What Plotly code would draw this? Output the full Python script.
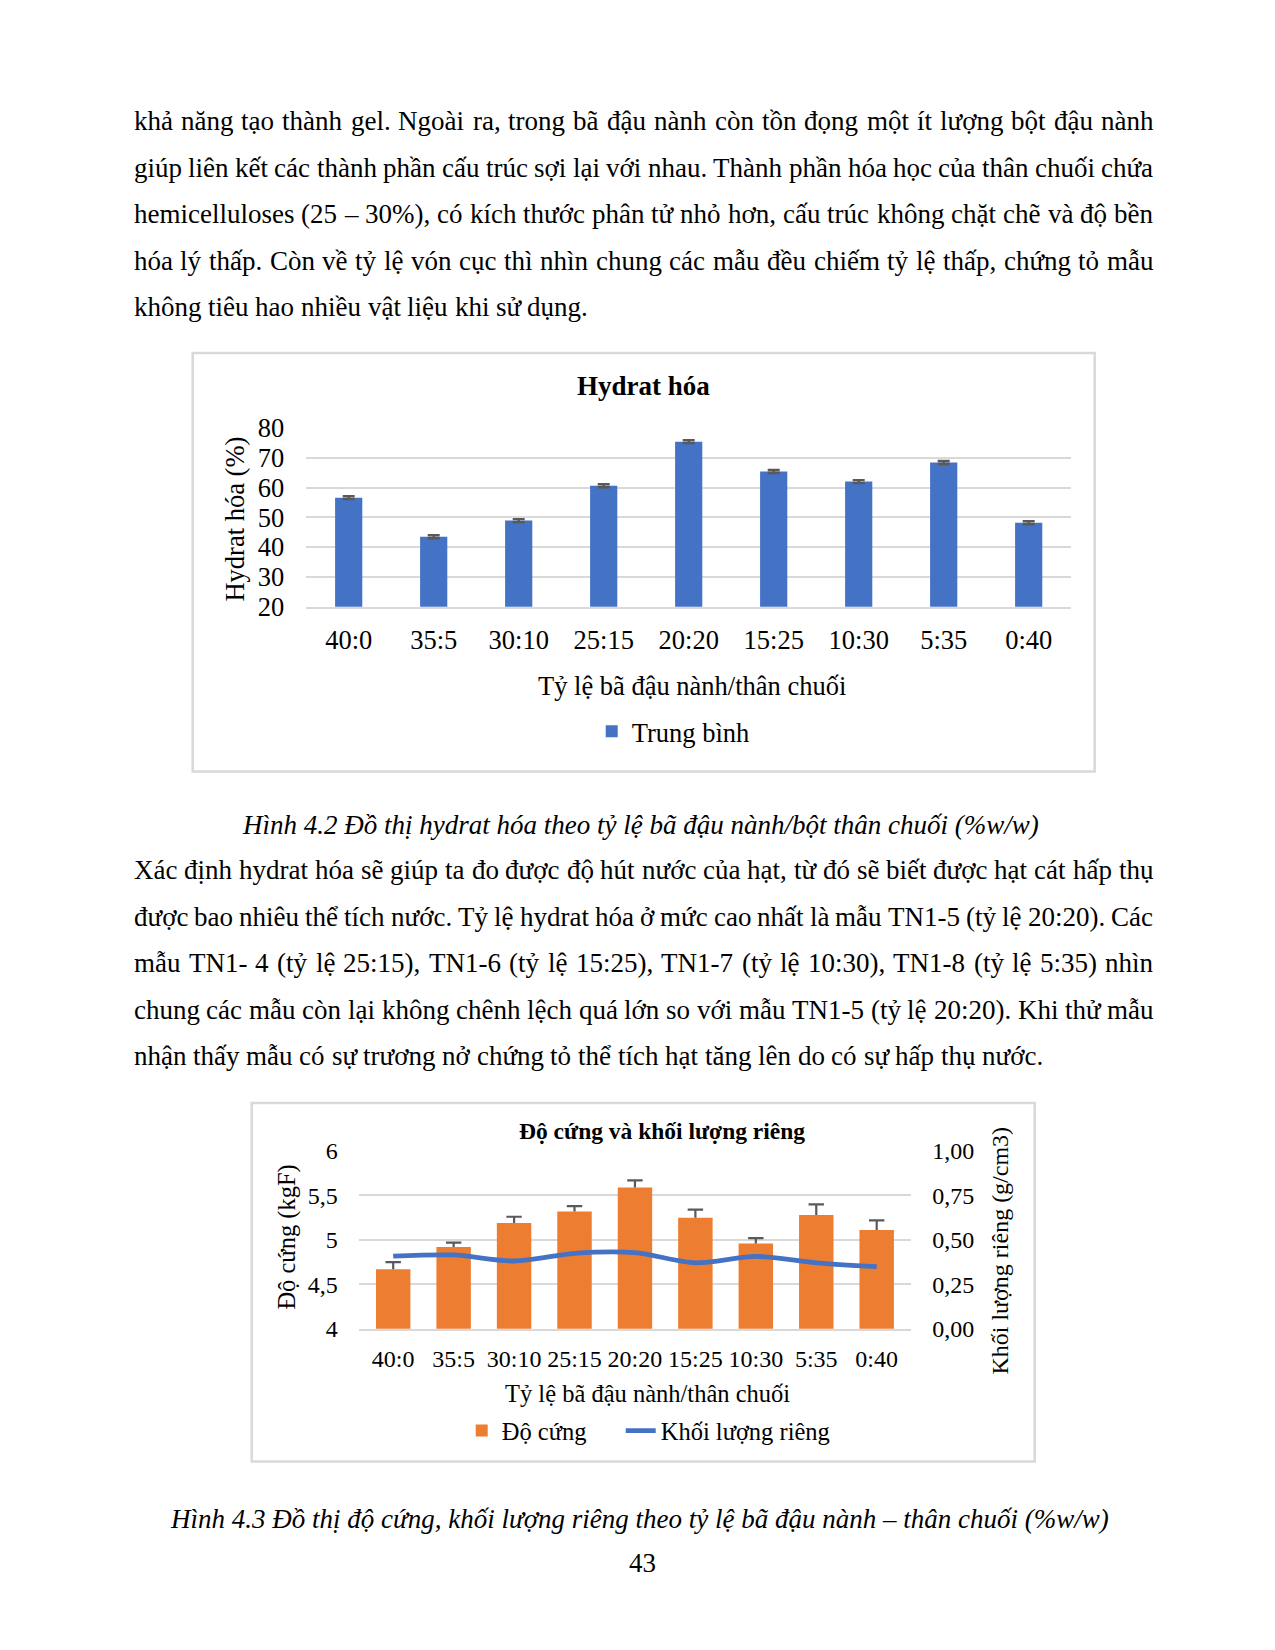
import unicodedata
import plotly.graph_objects as go

W, H = 1275, 1650
FONT = "Liberation Serif"

# ---------------- data ----------------
ratios = ["40:0", "35:5", "30:10", "25:15", "20:20", "15:25", "10:30", "5:35", "0:40"]
hydrat_mean = [56.6, 43.5, 48.9, 60.6, 75.4, 65.4, 62.0, 68.4, 48.2]
hydrat_err = [0.5, 0.5, 0.5, 0.5, 0.5, 0.5, 0.5, 0.5, 0.5]
hardness = [4.67, 4.92, 5.19, 5.32, 5.59, 5.25, 4.96, 5.28, 5.11]
hardness_err = [0.08, 0.05, 0.07, 0.06, 0.08, 0.09, 0.06, 0.12, 0.11]
hardness_err_minus = [0, 0, 0, 0, 0, 0, 0, 0, 0]
density = [0.409, 0.415, 0.381, 0.424, 0.428, 0.371, 0.407, 0.371, 0.349]

para1 = [
    "khả năng tạo thành gel. Ngoài ra, trong bã đậu nành còn tồn đọng một ít lượng bột đậu nành",
    "giúp liên kết các thành phần cấu trúc sợi lại với nhau. Thành phần hóa học của thân chuối chứa",
    "hemicelluloses (25 – 30%), có kích thước phân tử nhỏ hơn, cấu trúc không chặt chẽ và độ bền",
    "hóa lý thấp. Còn về tỷ lệ vón cục thì nhìn chung các mẫu đều chiếm tỷ lệ thấp, chứng tỏ mẫu",
    "không tiêu hao nhiều vật liệu khi sử dụng.",
]
para2 = [
    "Xác định hydrat hóa sẽ giúp ta đo được độ hút nước của hạt, từ đó sẽ biết được hạt cát hấp thụ",
    "được bao nhiêu thể tích nước. Tỷ lệ hydrat hóa ở mức cao nhất là mẫu TN1-5 (tỷ lệ 20:20). Các",
    "mẫu TN1- 4 (tỷ lệ 25:15), TN1-6 (tỷ lệ 15:25), TN1-7 (tỷ lệ 10:30), TN1-8 (tỷ lệ 5:35) nhìn",
    "chung các mẫu còn lại không chênh lệch quá lớn so với mẫu TN1-5 (tỷ lệ 20:20). Khi thử mẫu",
    "nhận thấy mẫu có sự trương nở chứng tỏ thể tích hạt tăng lên do có sự hấp thụ nước.",
]
caption1 = "Hình 4.2 Đồ thị hydrat hóa theo tỷ lệ bã đậu nành/bột thân chuối (%w/w)"
caption2 = "Hình 4.3 Đồ thị độ cứng, khối lượng riêng theo tỷ lệ bã đậu nành – thân chuối (%w/w)"
page_no = "43"

# ---------------- helpers (page pixel -> paper fraction) ----------------
def px(x):
    return (x - 6.3) / W

def py(y):
    return 1 - (1.01715 * y - 23.9) / H

TIMES = {}
for ch, w in zip("abcdefghijklmnopqrstuvwxyz",
                 [444, 500, 444, 500, 444, 333, 500, 500, 278, 278, 500, 278, 778,
                  500, 500, 500, 500, 333, 389, 278, 500, 500, 722, 500, 500, 444]):
    TIMES[ch] = w
for ch, w in zip("ABCDEFGHIJKLMNOPQRSTUVWXYZ",
                 [722, 667, 667, 722, 611, 556, 722, 722, 333, 389, 722, 611, 889,
                  722, 722, 556, 722, 667, 556, 611, 722, 722, 944, 722, 722, 611]):
    TIMES[ch] = w
for ch in "0123456789":
    TIMES[ch] = 500
TIMES.update({" ": 250, ".": 250, ",": 250, ":": 278, ";": 278, "(": 333, ")": 333,
              "%": 833, "-": 333, "–": 500, "/": 278})


def char_w(ch):
    if ch == "đ":
        return 500
    if ch == "Đ":
        return 722
    d = unicodedata.normalize("NFD", ch)
    base = d[0]
    if "\u031b" in d:
        return 530 if base.islower() else 770
    return TIMES.get(base, 500)


def word_w(word, size):
    return sum(char_w(c) for c in word) * size / 1000.0


BODY = 27
LEFT, RIGHT = 131, 1150.5
annotations = []


def add_paragraph(lines, y0, step):
    for i, line in enumerate(lines):
        y = y0 + i * step
        words = line.split(" ")
        widths = [word_w(w, BODY) for w in words]
        last = i == len(lines) - 1
        if last or len(words) == 1:
            gap = 250 * BODY / 1000.0
        else:
            gap = (RIGHT - LEFT - sum(widths)) / (len(words) - 1)
            gap = max(gap, 3.0)
        x = LEFT
        for w, wd in zip(words, widths):
            annotations.append(dict(x=px(x), y=py(y), xref="paper", yref="paper",
                                    text=w, showarrow=False, xanchor="left", yanchor="middle",
                                    font=dict(family=FONT, size=BODY, color="black"),
                                    borderpad=0))
            x += wd + gap


add_paragraph(para1, 122, 46.5)
add_paragraph(para2, 872, 46.5)


def add_text(text, x, y, size, bold=False, italic=False, angle=0):
    t = text
    if bold:
        t = "<b>" + t + "</b>"
    if italic:
        t = "<i>" + t + "</i>"
    annotations.append(dict(x=px(x), y=py(y), xref="paper", yref="paper", text=t,
                            showarrow=False, xanchor="center", yanchor="middle",
                            textangle=angle, font=dict(family=FONT, size=size, color="black")))


add_text(caption1, 639, 827, BODY, italic=True)
add_text(caption2, 638, 1522, BODY, italic=True)
add_text(page_no, 641, 1566, BODY)

# chart 1 texts
add_text("Hydrat hóa", 642, 387, 27, bold=True)
add_text("Hydrat hóa (%)", 233, 520, 26.5, angle=-90)
add_text("Tỷ lệ bã đậu nành/thân chuối", 690, 687, 26.5)
# chart 2 texts
add_text("Độ cứng và khối lượng riêng", 660, 1133, 23.5, bold=True)
add_text("Độ cứng (kgF)", 285, 1239, 24.5, angle=-90)
add_text("Khối lượng riêng (g/cm3)", 998, 1253, 24, angle=-90)
add_text("Tỷ lệ bã đậu nành/thân chuối", 646, 1396, 24.5)

# ---------------- figure ----------------
fig = go.Figure()

fig.add_trace(go.Bar(
    x=ratios, y=hydrat_mean, width=0.32, name="Trung bình",
    marker=dict(color="#4472C4", line=dict(width=0)),
    error_y=dict(type="data", array=hydrat_err, color="#595959", thickness=2.4, width=6),
    xaxis="x", yaxis="y", legend="legend"))

fig.add_trace(go.Bar(
    x=ratios, y=hardness, width=0.57, name="Độ cứng",
    marker=dict(color="#ED7D31", line=dict(width=0)),
    error_y=dict(type="data", symmetric=False, array=hardness_err,
                 arrayminus=hardness_err_minus, color="#595959", thickness=2.2, width=0),
    xaxis="x2", yaxis="y2", legend="legend2"))

# caps of the plus-only error bars
fig.add_trace(go.Scatter(
    x=ratios, y=[h + e for h, e in zip(hardness, hardness_err)], mode="markers",
    marker=dict(symbol="line-ew-open", size=11, color="#595959",
                line=dict(color="#595959", width=2.2)),
    showlegend=False, hoverinfo="skip", xaxis="x2", yaxis="y2"))

fig.add_trace(go.Scatter(
    x=ratios, y=density, mode="lines", name="Khối lượng riêng",
    line=dict(color="#4472C4", width=4.8, shape="spline", smoothing=0.8),
    xaxis="x2", yaxis="y3", legend="legend3"))

GRID = "#D9D9D9"
axis_common = dict(showgrid=False, zeroline=False, ticks="", type="category",
                   showline=True, linecolor=GRID, linewidth=2)
leg_common = dict(xanchor="left", yanchor="middle", orientation="h",
                  bgcolor="rgba(0,0,0,0)", borderwidth=0)

fig.update_layout(
    width=W, height=H, autosize=False,
    margin=dict(l=0, r=0, t=0, b=0),
    paper_bgcolor="white", plot_bgcolor="rgba(0,0,0,0)",
    separators=", ",
    font=dict(family=FONT, color="black"),
    xaxis=dict(domain=[px(304.5), px(1069.5)], anchor="y", tickfont=dict(size=26.5),
               ticklabelstandoff=8, **axis_common),
    yaxis=dict(domain=[py(608), py(429)], anchor="x", range=[20, 80], dtick=10,
               showgrid=True, gridcolor=GRID, gridwidth=2, zeroline=False, showline=False,
               ticks="", tickfont=dict(size=26.5), ticklabelstandoff=21),
    xaxis2=dict(domain=[px(357), px(909.5)], anchor="y2", tickfont=dict(size=24),
                ticklabelstandoff=7, **axis_common),
    yaxis2=dict(domain=[py(1331), py(1153)], anchor="x2", range=[4, 6], dtick=0.5,
                showgrid=True, gridcolor=GRID, gridwidth=2, zeroline=False, showline=False,
                ticks="", tickfont=dict(size=24), ticklabelstandoff=20),
    yaxis3=dict(overlaying="y2", side="right", anchor="x2", range=[0, 1], dtick=0.25,
                tickformat=".2f", showgrid=False, zeroline=False, showline=False,
                ticks="", tickfont=dict(size=24), ticklabelstandoff=20),
    legend=dict(x=px(590), y=py(733), font=dict(size=26.5, family=FONT), **leg_common),
    legend2=dict(x=px(460), y=py(1433), font=dict(size=24.5, family=FONT), **leg_common),
    legend3=dict(x=px(619), y=py(1433), font=dict(size=24.5, family=FONT), **leg_common),
    annotations=annotations,
    shapes=[
        dict(type="rect", xref="paper", yref="paper", x0=px(191), x1=px(1093),
             y0=py(773), y1=py(354), line=dict(color=GRID, width=2.5), layer="below"),
        dict(type="rect", xref="paper", yref="paper", x0=px(250), x1=px(1033),
             y0=py(1464), y1=py(1105), line=dict(color=GRID, width=2.5), layer="below"),
    ],
)

fig.write_html("out.html")
